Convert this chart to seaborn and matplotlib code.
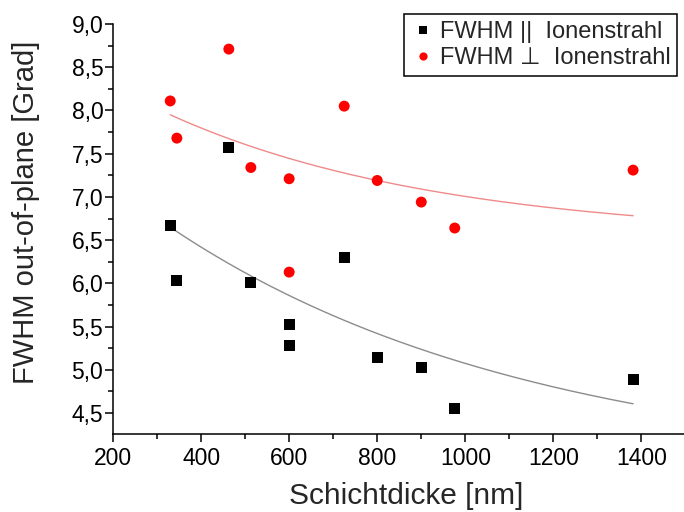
import numpy as np
import pandas as pd
import matplotlib
matplotlib.use("Agg")
import matplotlib.pyplot as plt
from matplotlib.ticker import MultipleLocator, FuncFormatter
import seaborn as sns

# Layer thickness [nm] of the samples
thickness = [330, 345, 463, 513, 600, 600, 725, 800, 900, 976, 1381]

# Out-of-plane FWHM [deg], parallel and perpendicular to the ion beam
fwhm_parallel = [6.67, 6.03, 7.57, 6.01, 5.52, 5.28, 6.30, 5.14, 5.03, 4.55, 4.89]
fwhm_perpendicular = [8.11, 7.68, 8.71, 7.34, 7.21, 6.13, 8.05, 7.19, 6.94, 6.64, 7.31]

# Exponential decay fits y = y0 + A * exp(-x / t)
fit_parallel = dict(y0=3.805, A=4.233, t=830.0)
fit_perpendicular = dict(y0=6.52, A=2.435, t=620.0)

label_par = "FWHM ||  Ionenstrahl"
label_perp = "FWHM \u22a5  Ionenstrahl"

sns.set_style("ticks")
plt.rcParams["font.family"] = ["Liberation Sans", "DejaVu Sans"]

fig = plt.figure(figsize=(6.84, 5.12), dpi=100)
ax = fig.add_axes([0.1652, 0.1523, 0.837, 0.8008])

df = pd.DataFrame({
    "x": thickness * 2,
    "y": fwhm_parallel + fwhm_perpendicular,
    "serie": [label_par] * len(thickness) + [label_perp] * len(thickness),
})

# fitted curves
xf = np.linspace(min(thickness), max(thickness), 200)
def decay(x, p):
    return p["y0"] + p["A"] * np.exp(-x / p["t"])

sns.lineplot(x=xf, y=decay(xf, fit_parallel), color="#8c8c8c", lw=1.0, ax=ax)
sns.lineplot(x=xf, y=decay(xf, fit_perpendicular), color="#f08a8a", lw=1.0, ax=ax)

sns.scatterplot(data=df, x="x", y="y", hue="serie", style="serie",
                palette={label_par: "black", label_perp: "#ff0000"},
                markers={label_par: "s", label_perp: "o"},
                s=62, linewidth=0, ax=ax, zorder=3)

ax.set_xlim(200, 1500)
ax.set_ylim(4.257, 9.0)
ax.xaxis.set_major_locator(MultipleLocator(200))
ax.xaxis.set_minor_locator(MultipleLocator(100))
ax.yaxis.set_major_locator(MultipleLocator(0.5))
ax.yaxis.set_minor_locator(MultipleLocator(0.25))
ax.set_xticks(np.arange(200, 1401, 200))
ax.yaxis.set_major_formatter(FuncFormatter(lambda v, _: f"{v:.1f}".replace(".", ",")))

sns.despine(ax=ax)
for sp in ("left", "bottom"):
    ax.spines[sp].set_linewidth(1.1)
    ax.spines[sp].set_color("black")

ax.tick_params(axis="both", which="major", labelsize=16.5, colors="black", width=1.1)
ax.tick_params(axis="x", which="major", length=6, pad=3)
ax.tick_params(axis="y", which="major", length=6, pad=1)
ax.tick_params(axis="both", which="minor", length=3.5, width=1.1, colors="black")

ax.set_xlabel("Schichtdicke [nm]", fontsize=21.5)
ax.set_ylabel("FWHM out-of-plane [Grad]", fontsize=21)
ax.xaxis.set_label_coords(0.512, -0.117)
ax.yaxis.set_label_coords(-0.128, 0.541)

leg = ax.legend(loc="upper right", bbox_to_anchor=(0.986, 1.024), borderaxespad=0,
                fontsize=17, frameon=True, fancybox=False, shadow=False,
                handletextpad=0.2, handlelength=1.0, borderpad=0.3,
                labelspacing=0.15, markerscale=0.75)
leg.get_frame().set_edgecolor("black")
leg.get_frame().set_linewidth(1.1)
leg.get_frame().set_alpha(1)

fig.savefig("out.png", dpi=100)
